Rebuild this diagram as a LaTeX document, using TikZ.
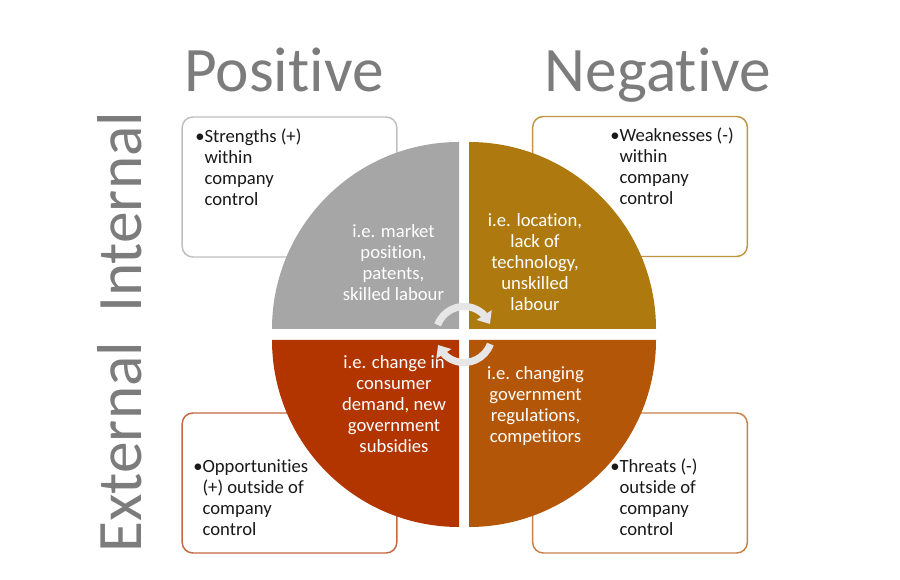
\documentclass[tikz,border=0pt]{standalone}
\usepackage{fontspec}
\setmainfont{Carlito}[Ligatures={NoCommon,NoRare,NoContextual}]
\usetikzlibrary{arrows.meta,bending}

\definecolor{qgray}{HTML}{A6A6A6}
\definecolor{qgold}{HTML}{AE7A10}
\definecolor{qred}{HTML}{B23500}
\definecolor{qorange}{HTML}{B45608}
\definecolor{headgray}{HTML}{7C7C7C}
\definecolor{cyclegray}{HTML}{E6E6E6}

\tikzset{
  box/.style={draw=#1,line width=1.1pt,rounded corners=8pt,fill=white,
    minimum width=161pt,minimum height=105pt,inner sep=0pt},
  boxtext/.style={anchor=north west,align=left,inner sep=0pt,
    font=\fontsize{14pt}{15.75pt}\selectfont,text=black!90},
  quadtext/.style={anchor=north,align=center,inner sep=0pt,
    font=\fontsize{14pt}{15.75pt}\selectfont,text=white},
  heading/.style={anchor=base,inner sep=0pt,text=headgray,
    font=\fontsize{47.5pt}{52pt}\selectfont},
  cycle/.style={draw=cyclegray,line width=5.4pt,
    -{Triangle[width=13pt,length=8pt]}}
}
\newcommand{\gap}{\hphantom{•}}

\begin{document}
\begin{tikzpicture}[x=0.75pt,y=0.75pt]
  \useasboundingbox (0,0) rectangle (900,580);

  % headings
  \node (pos) at (284,488) [heading] {Positive};
  \node (neg) at (658,488) [heading] {Negative};
  \node (int) at (141,267) [heading,rotate=90,anchor=base west] {Internal};
  \node (ext) at (141,27) [heading,rotate=90,anchor=base west] {External};

  % boxes behind the circle
  \node (sbox) at (289.5,393) [box=black!25] {};
  \node (wbox) at (640,393.5) [box=qgold!80] {};
  \node (obox) at (289.5,97) [box=qred!75] {};
  \node (tbox) at (640,97) [box=qorange!75] {};

  \node (stxt) at (195,451) [boxtext] {•Strengths (+)\\\gap within\\\gap company\\\gap control};
  \node (wtxt) at (610,452) [boxtext] {•Weaknesses (-)\\\gap within\\\gap company\\\gap control};
  \node (otxt) at (193,121) [boxtext] {•Opportunities\\\gap (+) outside of\\\gap company\\\gap control};
  \node (ttxt) at (610,121) [boxtext] {•Threats (-)\\\gap outside of\\\gap company\\\gap control};

  % the four quarters
  \coordinate (tl) at (459,251);
  \coordinate (tr) at (469,251);
  \coordinate (bl) at (459,240);
  \coordinate (br) at (469,240);
  \fill[qgray] (tl) -- ++(0,187) arc[start angle=90,end angle=180,radius=187] -- cycle;
  \fill[qgold] (tr) -- ++(187,0) arc[start angle=0,end angle=90,radius=187] -- cycle;
  \fill[qred] (bl) -- ++(-187,0) arc[start angle=180,end angle=270,radius=187] -- cycle;
  \fill[qorange] (br) -- ++(0,-187) arc[start angle=270,end angle=360,radius=187] -- cycle;

  \node (stip) at (393.5,356) [quadtext] {i.e. market\\position,\\patents,\\skilled labour};
  \node (wtip) at (535,367) [quadtext] {i.e. location,\\lack of\\technology,\\unskilled\\labour};
  \node (otip) at (394,225) [quadtext] {i.e. change in\\consumer\\demand, new\\government\\subsidies};
  \node (ttip) at (535.5,214) [quadtext] {i.e. changing\\government\\regulations,\\competitors};

  % cycle arrows in the middle
  \coordinate (hub) at (464,245.5);
  \draw[cycle] ([shift={(160:28)}]hub) arc[start angle=160,end angle=22,radius=28];
  \draw[cycle] ([shift={(-20:28)}]hub) arc[start angle=-20,end angle=-158,radius=28];
\end{tikzpicture}
\end{document}
